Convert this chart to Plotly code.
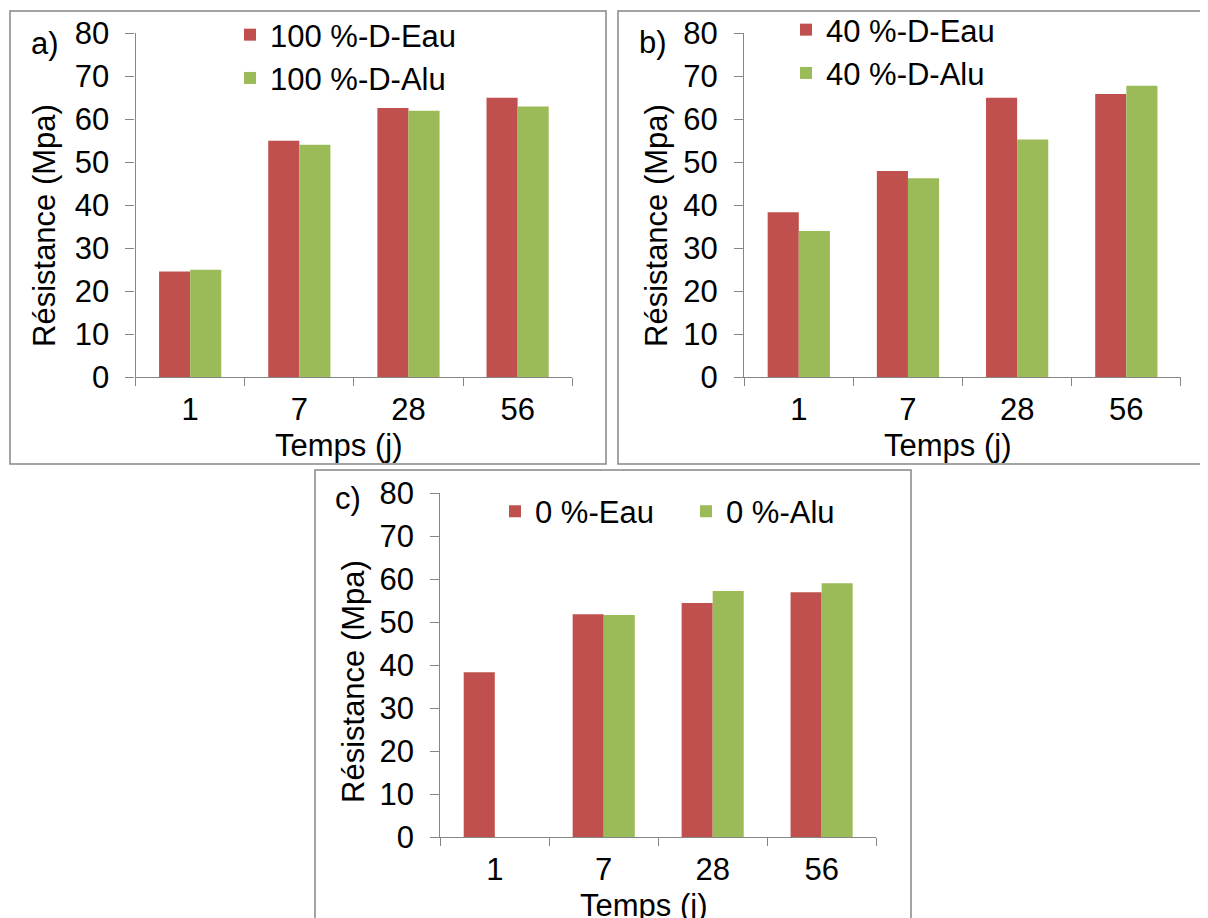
import plotly.graph_objects as go

# ---------------------------------------------------------------------------------------
# compressive strength vs curing time, three mixes (a, b, c)
# ---------------------------------------------------------------------------------------

days = ["1", "7", "28", "56"]

names_a = ["100 %-D-Eau", "100 %-D-Alu"]
eau_a = [24.6, 55.0, 62.6, 65.0]
alu_a = [25.0, 54.1, 62.0, 63.0]

names_b = ["40 %-D-Eau", "40 %-D-Alu"]
eau_b = [38.4, 48.0, 65.0, 65.9]
alu_b = [34.0, 46.3, 55.3, 67.8]

names_c = ["0 %-Eau", "0 %-Alu"]
eau_c = [38.4, 51.9, 54.5, 57.0]
alu_c = [None, 51.7, 57.3, 59.1]

# the page body adds an 8 px margin, so the figure is drawn 8 px in from the corner
OFF = 8
W, H = 1200, 910
red = "#C0504D"
green = "#9BBB59"
grey = "#868686"
font = "Liberation Sans, Arial, sans-serif"
fs = 31


def px(x):
  return (x - OFF) / W


def py(y):
  return 1 - (y - OFF) / H


fig = go.Figure()

panels = [
  ("", names_a, eau_a, alu_a, "legend"),
  ("2", names_b, eau_b, alu_b, "legend2"),
  ("3", names_c, eau_c, alu_c, "legend3"),
]
for k, names, eau, alu, leg in panels:
  for name, vals, col in [(names[0], eau, red), (names[1], alu, green)]:
    fig.add_trace(go.Bar(
      x=days, y=vals, name=name, marker={"color": col, "line": {"width": 0}},
      xaxis="x" + k, yaxis="y" + k, legend=leg,
    ))

# plot areas in screen pixels: (left, right, top, bottom)
areas = {
  "": (135.6, 572.2, 33.3, 377.3),
  "2": (744.2, 1180.9, 33.3, 377.3),
  "3": (440.3, 876.1, 493.3, 837.3),
}

layout = {
  "width": W, "height": H,
  "margin": {"l": 0, "r": 0, "t": 0, "b": 0, "pad": 0, "autoexpand": False},
  "paper_bgcolor": "white", "plot_bgcolor": "white",
  "font": {"family": font, "size": fs, "color": "black"},
  "barmode": "group", "bargap": 0.43, "bargroupgap": 0,
}
for k, (l, r, t, b) in areas.items():
  layout["xaxis" + k] = {
    "domain": [px(l), px(r)], "anchor": "y" + k, "type": "category",
    "showline": True, "linecolor": grey, "linewidth": 1.3,
    "ticks": "outside", "tickson": "boundaries", "ticklen": 8,
    "tickcolor": grey, "tickwidth": 1.3, "showgrid": False,
    "ticklabelstandoff": 4, "tickfont": {"size": fs}, "automargin": False,
  }
  layout["yaxis" + k] = {
    "domain": [py(b), py(t)], "anchor": "x" + k, "range": [0, 80],
    "dtick": 10, "showline": True, "linecolor": grey, "linewidth": 1.3,
    "ticks": "outside", "ticklen": 9, "tickcolor": grey, "tickwidth": 1.3,
    "showgrid": False, "zeroline": False, "ticklabelstandoff": 10,
    "tickfont": {"size": fs}, "automargin": False,
  }

legend_style = {"font": {"size": fs}, "bgcolor": "rgba(0,0,0,0)", "borderwidth": 0,
                "xanchor": "left", "yanchor": "top", "traceorder": "normal"}
layout["legend"] = dict(legend_style, x=px(230), y=py(8))
layout["legend2"] = dict(legend_style, x=px(786), y=py(3))
layout["legend3"] = dict(legend_style, x=px(495), y=py(484.5), orientation="h",
                         entrywidth=146, entrywidthmode="pixels")

fig.update_layout(layout)

# panel borders
for x0, y0, x1, y1 in [(10, 11, 606, 464), (618, 11, 1205, 464), (315, 470, 911, 930)]:
  fig.add_shape(type="rect", xref="paper", yref="paper",
                x0=px(x0), x1=px(x1), y0=py(y1), y1=py(y0),
                line={"color": grey, "width": 1.5}, fillcolor="rgba(0,0,0,0)")

# panel letters and axis titles
texts = [
  ("a)", 45, 44, 0), ("b)", 653, 43, 0), ("c)", 348, 498, 0),
  ("Résistance (Mpa)", 44, 226, -90), ("Résistance (Mpa)", 656, 226, -90),
  ("Résistance (Mpa)", 353, 682, -90),
  ("Temps (j)", 338, 445, 0), ("Temps (j)", 947, 445, 0), ("Temps (j)", 643, 905, 0),
]
for txt, x, y, ang in texts:
  fig.add_annotation(text=txt, x=px(x), y=py(y), xref="paper", yref="paper",
                     showarrow=False, textangle=ang, xanchor="center", yanchor="middle",
                     font={"size": fs, "family": font, "color": "black"})

fig.write_html("out.html")
